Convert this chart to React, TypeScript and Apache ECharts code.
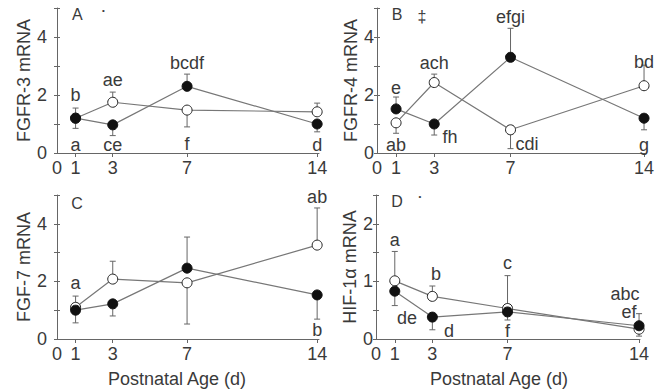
import React, { useEffect, useRef } from 'react';
import * as echarts from 'echarts';

// ---------- data ----------
const days = [1, 3, 7, 14];
const xTickValues = [1, 3, 7, 14];
const xLabelValues = [0, 1, 3, 7, 14];

// Panel A: FGFR-3
const fgfr3Open = [1.2, 1.75, 1.48, 1.42];
const fgfr3Filled = [1.2, 0.97, 2.3, 1.0];
const fgfr3OpenErr = [1.55, 2.1, 0.9, 1.72];
const fgfr3FilledErr = [0.85, 0.6, 2.72, 0.73];
const fgfr3Notes: [number, number, string][] = [
  [1, 2.0, 'b'], [1, 0.28, 'a'], [3, 2.52, 'ae'], [3, 0.28, 'ce'],
  [7, 3.1, 'bcdf'], [7, 0.3, 'f'], [14, 0.28, 'd'],
];
const fgfr3Tags: [number, number, string][] = [[1.1, 4.76, 'A']];
const fgfr3Marks: [number, number, string][] = [[2.5, 4.9, '•']];

// Panel B: FGFR-4
const fgfr4Open = [1.04, 2.43, 0.8, 2.32];
const fgfr4Filled = [1.52, 1.0, 3.3, 1.2];
const fgfr4OpenErr = [0.68, 2.72, 0.15, 3.03];
const fgfr4FilledErr = [1.93, 0.62, 4.3, 0.8];
const fgfr4Notes: [number, number, string][] = [
  [1, 2.24, 'e'], [1, 0.28, 'ab'], [3, 3.1, 'ach'], [3.83, 0.55, 'fh'],
  [7, 4.69, 'efgi'], [7.87, 0.31, 'cdi'], [14, 3.14, 'bd'], [14, 0.28, 'g'],
];
const fgfr4Tags: [number, number, string][] = [[1.05, 4.76, 'B'], [2.36, 4.72, '‡']];
const fgfr4Marks: [number, number, string][] = [];

// Panel C: FGF-7
const fgf7Open = [1.1, 2.08, 1.95, 3.26];
const fgf7Filled = [1.0, 1.22, 2.46, 1.53];
const fgf7OpenErr = [1.49, 2.7, 0.52, 4.55];
const fgf7FilledErr = [0.56, 0.8, 3.54, 0.69];
const fgf7Notes: [number, number, string][] = [
  [1, 1.94, 'a'], [14, 4.93, 'ab'], [14, 0.31, 'b'],
];
const fgf7Tags: [number, number, string][] = [[1.08, 4.72, 'C']];
const fgf7Marks: [number, number, string][] = [];

// Panel D: HIF-1α
const hifOpen = [1.01, 0.74, 0.53, 0.17];
const hifFilled = [0.83, 0.38, 0.47, 0.23];
const hifOpenErr = [1.52, 0.92, 1.1, 0.05];
const hifFilledErr = [0.58, 0.16, 0.33, 0.44];
const hifNotes: [number, number, string][] = [
  [1, 1.72, 'a'], [1.65, 0.37, 'de'], [3.19, 1.13, 'b'], [3.88, 0.14, 'd'],
  [7, 1.32, 'c'], [7, 0.14, 'f'], [13.25, 0.78, 'abc'], [13.46, 0.46, 'ef'],
];
const hifTags: [number, number, string][] = [[1.12, 2.38, 'D']];
const hifMarks: [number, number, string][] = [[2.34, 2.47, '•']];

const yTitles = ['FGFR-3 mRNA', 'FGFR-4 mRNA', 'FGF-7 mRNA', 'HIF-1α mRNA'];
const xTitle = 'Postnatal Age (d)';

// ---------- layout / style ----------
const FONT = "'Liberation Sans', Arial, Helvetica, sans-serif";
const TEXT = '#3a3a3a';
const AXIS = '#666';
const FS = 18;

const panels = [
  { open: fgfr3Open, filled: fgfr3Filled, openErr: fgfr3OpenErr, filledErr: fgfr3FilledErr, notes: fgfr3Notes, tags: fgfr3Tags, marks: fgfr3Marks,
    grid: { left: 57, top: 8, width: 262, height: 145 }, xMax: 14.1, yMax: 5, yInt: 1, yLabelStep: 2, labelMargin: 10, nameGap: 24, xName: false, namePad: 0 },
  { open: fgfr4Open, filled: fgfr4Filled, openErr: fgfr4OpenErr, filledErr: fgfr4FilledErr, notes: fgfr4Notes, tags: fgfr4Tags, marks: fgfr4Marks,
    grid: { left: 377, top: 8, width: 268, height: 145 }, xMax: 14.05, yMax: 5, yInt: 1, yLabelStep: 2, labelMargin: 3, nameGap: 16, xName: false, namePad: 0 },
  { open: fgf7Open, filled: fgf7Filled, openErr: fgf7OpenErr, filledErr: fgf7FilledErr, notes: fgf7Notes, tags: fgf7Tags, marks: fgf7Marks,
    grid: { left: 57, top: 195, width: 262, height: 144 }, xMax: 14.1, yMax: 5, yInt: 1, yLabelStep: 2, labelMargin: 10, nameGap: 24, xName: true, namePad: 22 },
  { open: hifOpen, filled: hifFilled, openErr: hifOpenErr, filledErr: hifFilledErr, notes: hifNotes, tags: hifTags, marks: hifMarks,
    grid: { left: 376, top: 195, width: 264, height: 144 }, xMax: 14.05, yMax: 2.5, yInt: 0.5, yLabelStep: 1, labelMargin: 3, nameGap: 16, xName: true, namePad: 18 },
];

function buildOption() {
  const grid: any[] = [];
  const xAxis: any[] = [];
  const yAxis: any[] = [];
  const series: any[] = [];

  panels.forEach((p, i) => {
    grid.push({ ...p.grid, containLabel: false });
    xAxis.push({
      type: 'value', gridIndex: i, min: 0, max: p.xMax,
      axisLine: { show: true, lineStyle: { color: AXIS, width: 1 } },
      axisTick: { show: true, customValues: xTickValues, length: 4, lineStyle: { color: AXIS } },
      axisLabel: { show: true, customValues: xLabelValues, margin: 6, color: TEXT, fontSize: FS, fontFamily: FONT },
      splitLine: { show: false },
      name: p.xName ? xTitle : '',
      nameLocation: 'middle', nameGap: 31,
      nameTextStyle: { color: TEXT, fontSize: FS, fontFamily: FONT, padding: [0, p.namePad, 0, 0] },
    });
    const yi = yAxis.length;
    yAxis.push({
      type: 'value', gridIndex: i, min: 0, max: p.yMax, interval: p.yInt,
      axisLine: { show: true, lineStyle: { color: AXIS, width: 1 } },
      axisTick: { show: true, length: 3, lineStyle: { color: AXIS } },
      axisLabel: {
        show: true, margin: p.labelMargin, color: TEXT, fontSize: FS, fontFamily: FONT,
        formatter: (v: number) => (Math.abs(v / p.yLabelStep - Math.round(v / p.yLabelStep)) < 1e-6 ? String(v) : ''),
      },
      splitLine: { show: false },
      name: yTitles[i], nameLocation: 'middle', nameGap: p.nameGap,
      nameTextStyle: { color: TEXT, fontSize: FS, fontFamily: FONT },
    });
    yAxis.push({
      type: 'value', gridIndex: i, min: 0, max: p.yMax, interval: p.yInt, position: 'left',
      axisLine: { show: false },
      axisTick: { show: true, inside: true, length: 3, lineStyle: { color: AXIS } },
      axisLabel: { show: false },
      splitLine: { show: false },
    });

    const errData = days.map((d, k) => [d, p.open[k], p.openErr[k]]).concat(days.map((d, k) => [d, p.filled[k], p.filledErr[k]]));
    series.push({
      type: 'custom', xAxisIndex: i, yAxisIndex: yi, z: 2, silent: true,
      encode: { x: 0, y: [1, 2] },
      data: errData,
      renderItem: (params: any, api: any) => {
        const x = api.value(0), v = api.value(1), e = api.value(2);
        const p0 = api.coord([x, v]);
        const p1 = api.coord([x, e]);
        const st = { stroke: '#666', lineWidth: 1 };
        return {
          type: 'group',
          children: [
            { type: 'line', shape: { x1: p0[0], y1: p0[1], x2: p1[0], y2: p1[1] }, style: st },
            { type: 'line', shape: { x1: p1[0] - 3, y1: p1[1], x2: p1[0] + 3, y2: p1[1] }, style: st },
          ],
        };
      },
    });
    series.push({
      type: 'line', xAxisIndex: i, yAxisIndex: yi, z: 3,
      data: days.map((d, k) => [d, p.open[k]]),
      symbol: 'circle', symbolSize: 10, showAllSymbol: true,
      lineStyle: { color: '#777', width: 1.2 },
      itemStyle: { color: '#fff', borderColor: '#222', borderWidth: 1 },
    });
    series.push({
      type: 'line', xAxisIndex: i, yAxisIndex: yi, z: 4,
      data: days.map((d, k) => [d, p.filled[k]]),
      symbol: 'circle', symbolSize: 10, showAllSymbol: true,
      lineStyle: { color: '#777', width: 1.2 },
      itemStyle: { color: '#111', borderColor: '#111', borderWidth: 1 },
    });
    const textSeries = (data: any[], size: number) => ({
      type: 'scatter', xAxisIndex: i, yAxisIndex: yi, z: 5, silent: true,
      data, symbolSize: 0.01,
      itemStyle: { color: TEXT, opacity: 0 },
      label: {
        show: true, position: [0, 0], align: 'center', verticalAlign: 'middle',
        formatter: (pr: any) => pr.data[2],
        color: TEXT, opacity: 1, fontSize: size, fontFamily: FONT, lineHeight: Math.round(size * 0.8),
        textBorderWidth: 0,
      },
    });
    series.push(textSeries(p.notes, FS));
    series.push(textSeries(p.tags, 16));
    if (p.marks.length) series.push(textSeries(p.marks, 8));
  });

  return { animation: false, backgroundColor: '#fff', grid, xAxis, yAxis, series };
}

export default function App() {
  const ref = useRef<HTMLDivElement>(null);
  useEffect(() => {
    if (!ref.current) return;
    const chart = echarts.init(ref.current, undefined, { renderer: 'svg' });
    chart.setOption(buildOption() as any);
    return () => chart.dispose();
  }, []);
  return <div ref={ref} style={{ position: 'fixed', left: 0, top: 0, width: 664, height: 389, background: '#fff' }} />;
}
